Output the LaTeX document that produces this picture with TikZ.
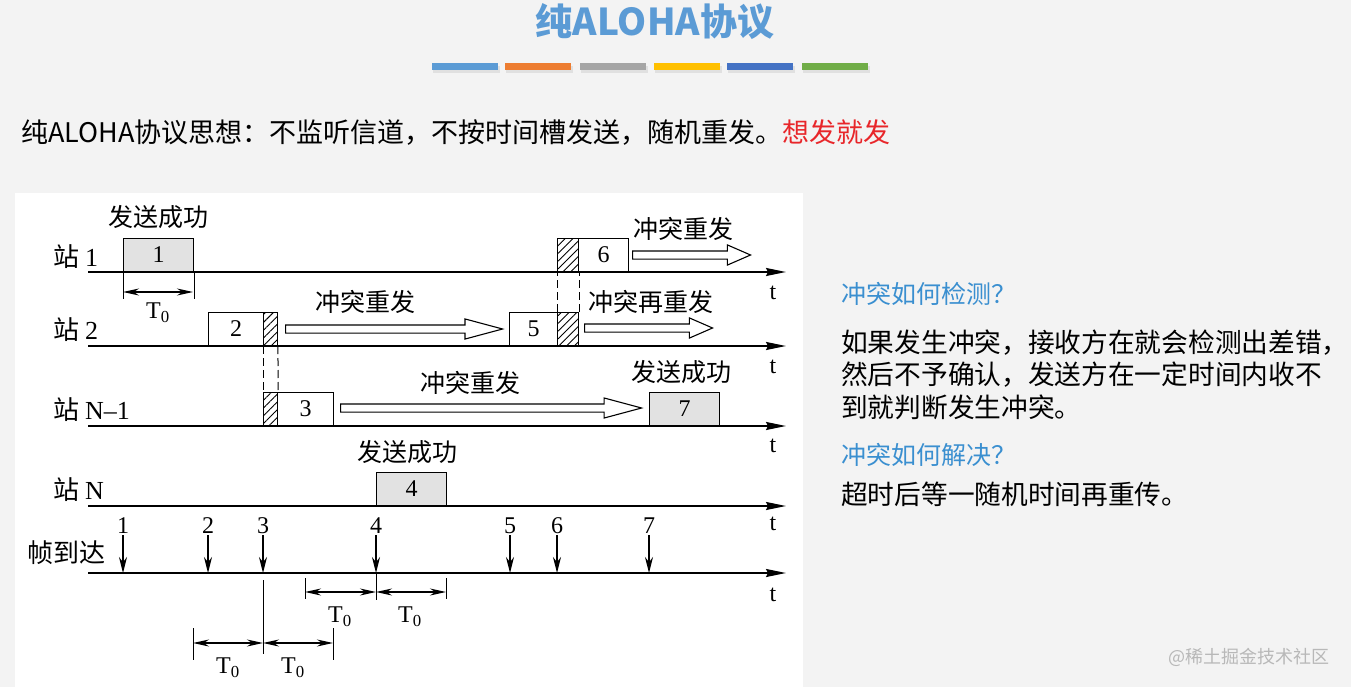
\documentclass[tikz,border=0pt]{standalone}
\usepackage{fontspec}
\setmainfont{Liberation Serif}
\newfontfamily\cjk{Noto Sans CJK SC}
\usetikzlibrary{arrows.meta,shapes.arrows,patterns.meta,positioning}
\definecolor{alohablue}{HTML}{5B9BD5}
\definecolor{barorange}{HTML}{ED7D31}
\definecolor{bargray}{HTML}{A5A5A5}
\definecolor{baryellow}{HTML}{FFC000}
\definecolor{bardeep}{HTML}{4472C4}
\definecolor{bargreen}{HTML}{70AD47}
\definecolor{askblue}{HTML}{3A8FD0}
\definecolor{hotred}{HTML}{E8262A}
\definecolor{pagegray}{HTML}{F3F3F3}
\definecolor{sentfill}{HTML}{E2E2E2}

\begin{document}
\begin{tikzpicture}[
  x=1pt, y=-1pt,
  >={Stealth[length=16pt,width=7pt]},
  axis/.style={line width=1.8pt, -{Stealth[length=20pt,width=8pt,inset=2pt]}},
  frame/.style={draw, line width=1.2pt, minimum height=33pt, inner sep=0pt, anchor=south west, font=\fontsize{24}{24}\selectfont},
  sent/.style={frame, fill=sentfill},
  clash/.style={frame, pattern={Lines[angle=45,distance=5.5pt,line width=0.9pt]}},
  retry/.style={single arrow, draw, line width=1.1pt, inner sep=3.5pt, single arrow head extend=6pt, single arrow tip angle=30, anchor=tail},
  zh/.style={font=\cjk\fontsize{25}{25}\selectfont},
  station/.style={anchor=west, inner sep=0pt, font=\fontsize{26}{26}\selectfont},
  num/.style={inner sep=1pt, font=\fontsize{24}{24}\selectfont},
  drop/.style={-{Stealth[length=16pt,width=8pt]}, line width=1.3pt},
  dim/.style={<->, line width=1.3pt},
  tick/.style={line width=1pt},
  seam/.style={line width=1pt, dash pattern=on 8pt off 4pt}
]
  \useasboundingbox (0,0) rectangle (1351,687);
  \fill[pagegray] (0,0) rectangle (1351,687);
  \fill[white] (15,193) rectangle (803,687);

  % heading
  \node[font=\cjk\bfseries\fontsize{37}{37}\selectfont, text=alohablue] (title) at (655,22) {纯ALOHA协议};
  \fill[black!12] (433,66) rectangle (500,73);
  \fill[black!12] (506,66) rectangle (573,73);
  \fill[black!12] (581,66) rectangle (648,73);
  \fill[black!12] (655,66) rectangle (722,73);
  \fill[black!12] (728,66) rectangle (795,73);
  \fill[black!12] (803,66) rectangle (870,73);
  \fill[alohablue] (432,63) rectangle (498,70);
  \fill[barorange] (505,63) rectangle (571,70);
  \fill[bargray] (580,63) rectangle (646,70);
  \fill[baryellow] (654,63) rectangle (720,70);
  \fill[bardeep] (727,63) rectangle (793,70);
  \fill[bargreen] (802,63) rectangle (868,70);
  \node[anchor=west, inner sep=0pt, font=\cjk\fontsize{27}{27}\selectfont] (idea) at (21,133) {纯ALOHA协议思想：不监听信道，不按时间槽发送，随机重发。\textcolor{hotred}{想发就发}};

  % time axes
  \coordinate (s1) at (88,272);  \coordinate (e1) at (786,272);
  \coordinate (s2) at (88,346);  \coordinate (e2) at (786,346);
  \coordinate (s3) at (88,426);  \coordinate (e3) at (786,426);
  \coordinate (s4) at (88,506);  \coordinate (e4) at (786,506);
  \coordinate (s5) at (88,573);  \coordinate (e5) at (786,573);
  \draw[axis] (s1) -- (e1);
  \draw[axis] (s2) -- (e2);
  \draw[axis] (s3) -- (e3);
  \draw[axis] (s4) -- (e4);
  \draw[axis] (s5) -- (e5);
  \node[num] (t1) at (773,293) {t};
  \node[num] (t2) at (773,367) {t};
  \node[num] (t3) at (773,446) {t};
  \node[num] (t4) at (773,524) {t};
  \node[num] (t5) at (773,595) {t};

  \node[station] (st1) at (53,257) {{\cjk 站}\hspace{6pt}1};
  \node[station] (st2) at (53,330) {{\cjk 站}\hspace{6pt}2};
  \node[station] (st3) at (53,410) {{\cjk 站}\hspace{6pt}N\textendash 1};
  \node[station] (st4) at (53,490) {{\cjk 站}\hspace{6pt}N};
  \node[station, font=\cjk\fontsize{26}{26}\selectfont] (st5) at (27,553) {帧到达};

  % frames
  \node[sent, minimum width=70pt] (f1) at (123,272) {1};
  \node[frame, minimum width=55pt] (f2) at (208,346) {2};
  \node[clash, minimum width=14pt] (c2) at (263,346) {};
  \node[clash, minimum width=14pt] (c3) at (263,426) {};
  \node[frame, minimum width=56pt] (f3) at (277,426) {3};
  \node[sent, minimum width=70pt] (f4) at (376,506) {4};
  \node[frame, minimum width=48pt] (f5) at (509,346) {5};
  \node[clash, minimum width=21pt] (c5) at (557,346) {};
  \node[clash, minimum width=21pt] (c6) at (557,272) {};
  \node[frame, minimum width=50pt] (f6) at (578,272) {6};
  \node[sent, minimum width=70pt] (f7) at (649,426) {7};

  \draw[seam] (c2.south west) -- (c3.north west);
  \draw[seam] (c2.south east) -- (c3.north east);
  \draw[seam] (c5.north west) -- (c6.south west);
  \draw[seam] (c5.north east) -- (c6.south east);

  % retransmissions
  \node[retry, minimum height=217pt] (r2) at (285,329) {};
  \node[retry, minimum height=301pt] (r3) at (340,408) {};
  \node[retry, minimum height=128pt, single arrow tip angle=47] (r5) at (584,328) {};
  \node[retry, minimum height=118pt, single arrow tip angle=47] (r6) at (632,255) {};

  \node[zh] (ok1) at (158,217) {发送成功};
  \node[zh] (ok4) at (407,452) {发送成功};
  \node[zh] (ok7) at (681,372) {发送成功};
  \node[zh] (re2) at (365,302) {冲突重发};
  \node[zh] (re3) at (470,383) {冲突重发};
  \node[zh] (re5) at (651,302) {冲突再重发};
  \node[zh] (re6) at (683,229) {冲突重发};

  % frame time T0
  \coordinate (w1a) at (123,292); \coordinate (w1b) at (193,292);
  \draw[tick] (f1.south west) -- ++(0,27);
  \draw[tick] (f1.south east) -- ++(0,27);
  \draw[dim] (w1a) -- (w1b);
  \node[num] (T1) at (158,313) {T\textsubscript{0}};

  % frame arrivals
  \node[num] (n1) at (123,526) {1}; \coordinate (a1) at (123,573);
  \node[num] (n2) at (208,526) {2}; \coordinate (a2) at (208,573);
  \node[num] (n3) at (263,526) {3}; \coordinate (a3) at (263,573);
  \node[num] (n4) at (376,526) {4}; \coordinate (a4) at (376,573);
  \node[num] (n5) at (510,526) {5}; \coordinate (a5) at (510,573);
  \node[num] (n6) at (557,526) {6}; \coordinate (a6) at (557,573);
  \node[num] (n7) at (649,526) {7}; \coordinate (a7) at (649,573);
  \draw[drop] (n1) -- (a1);
  \draw[drop] (n2) -- (a2);
  \draw[drop] (n3) -- (a3);
  \draw[drop] (n4) -- (a4);
  \draw[drop] (n5) -- (a5);
  \draw[drop] (n6) -- (a6);
  \draw[drop] (n7) -- (a7);

  % vulnerable period
  \coordinate (v3) at (263,643); \coordinate (vl) at (193,643); \coordinate (vr) at (333,643);
  \draw[tick] (263,580) -- (263,654);
  \draw[tick] (193,628) -- (193,660);
  \draw[tick] (333,628) -- (333,660);
  \draw[dim] (vl) -- (v3);
  \draw[dim] (v3) -- (vr);
  \node[num] (T2) at (228,668) {T\textsubscript{0}};
  \node[num] (T3) at (293,668) {T\textsubscript{0}};

  \coordinate (u4) at (376,592); \coordinate (ul) at (305,592); \coordinate (ur) at (446,592);
  \draw[tick] (376,573) -- (376,600);
  \draw[tick] (305,578) -- (305,599);
  \draw[tick] (446,578) -- (446,599);
  \draw[dim] (ul) -- (u4);
  \draw[dim] (u4) -- (ur);
  \node[num] (T4) at (340,617) {T\textsubscript{0}};
  \node[num] (T5) at (410,617) {T\textsubscript{0}};

  % notes
  \node[anchor=west, inner sep=0pt, font=\cjk\fontsize{25}{25}\selectfont, text=askblue] (ask1) at (841,294) {冲突如何检测？};
  \node[anchor=west, inner sep=0pt, font=\cjk\fontsize{26.7}{26.7}\selectfont] (ans1a) at (841,343) {如果发生冲突，接收方在就会检测出差错，};
  \node[anchor=west, inner sep=0pt, font=\cjk\fontsize{26.7}{26.7}\selectfont] (ans1b) at (841,375) {然后不予确认，发送方在一定时间内收不};
  \node[anchor=west, inner sep=0pt, font=\cjk\fontsize{26.7}{26.7}\selectfont] (ans1c) at (841,407) {到就判断发生冲突。};
  \node[anchor=west, inner sep=0pt, font=\cjk\fontsize{25}{25}\selectfont, text=askblue] (ask2) at (841,455) {冲突如何解决？};
  \node[anchor=west, inner sep=0pt, font=\cjk\fontsize{26.7}{26.7}\selectfont] (ans2) at (841,494) {超时后等一随机时间再重传。};
  \node[anchor=west, inner sep=0pt, font=\cjk\fontsize{18}{18}\selectfont, text=black!28] (mark) at (1168,657) {@稀土掘金技术社区};
\end{tikzpicture}
\end{document}
